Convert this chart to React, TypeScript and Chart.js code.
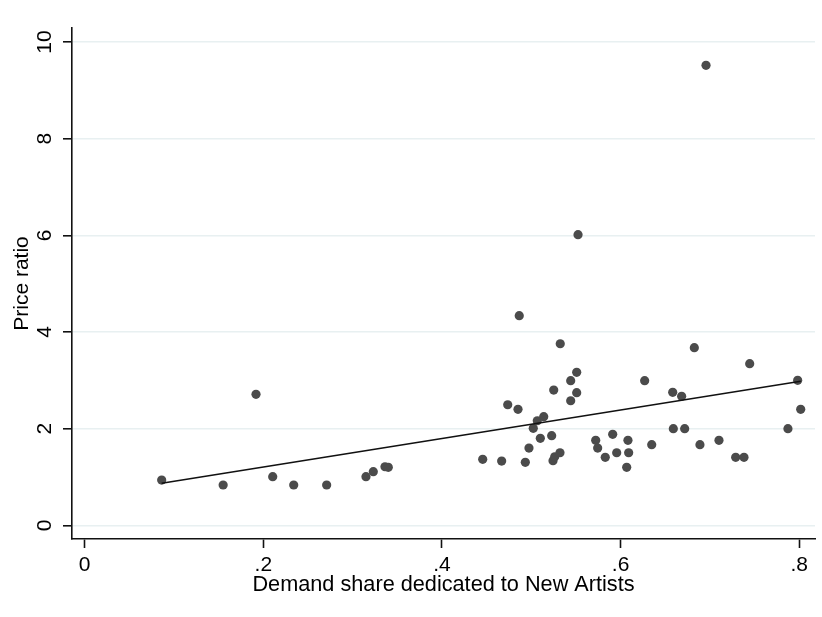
import React, { useEffect, useRef } from "react";
import { Chart, registerables } from "chart.js";

Chart.register(...registerables);

// Demand share dedicated to new artists (x) and price ratio (y), one pair per market
const shareNew = [
  0.0862, 0.155, 0.1918, 0.2105, 0.234, 0.2709, 0.3149, 0.3231, 0.3362, 0.3399,
  0.4456, 0.4668, 0.4736, 0.4851, 0.4865, 0.4933, 0.4974, 0.5022, 0.5067, 0.5101,
  0.5139, 0.5228, 0.5251, 0.5243, 0.5262, 0.5321, 0.5324, 0.5441, 0.5441, 0.5508,
  0.5508, 0.5523, 0.5721, 0.5743, 0.5828, 0.5911, 0.5956, 0.6082, 0.609, 0.6068,
  0.6269, 0.6348, 0.6583, 0.659, 0.6683, 0.6717, 0.6825, 0.6888, 0.6956, 0.7101,
  0.7288, 0.7381, 0.7445, 0.7873, 0.7982, 0.8016,
];
const priceRatio = [
  0.937, 0.834, 2.711, 1.006, 0.834, 0.834, 1.006, 1.109, 1.212, 1.2,
  1.366, 1.33, 2.495, 2.4, 4.337, 1.304, 1.599, 2.007, 2.164, 1.8,
  2.247, 1.854, 2.799, 1.337, 1.419, 1.502, 3.757, 2.992, 2.578, 3.166,
  2.744, 6.013, 1.759, 1.599, 1.407, 1.883, 1.502, 1.759, 1.502, 1.2,
  2.992, 1.668, 2.752, 1.999, 2.669, 1.999, 3.675, 1.668, 9.518, 1.759,
  1.407, 1.407, 3.344, 1.999, 3.0, 2.4,
];

// Linear fit endpoints
const fitX = [0.0862, 0.8016];
const fitY = [0.869, 2.981];

// Axis ticks and labels
const xTicks = [0, 0.2, 0.4, 0.6, 0.8];
const xTickLabels = ["0", ".2", ".4", ".6", ".8"];
const yTicks = [0, 2, 4, 6, 8, 10];
const yTickLabels = ["0", "2", "4", "6", "8", "10"];

const FONT = "'Liberation Sans', Arial, Helvetica, sans-serif";

export default function App() {
  const canvasRef = useRef<HTMLCanvasElement | null>(null);

  useEffect(() => {
    const canvas = canvasRef.current;
    if (!canvas) return;

    const points = shareNew.map((x, i) => ({ x, y: priceRatio[i] }));
    const fit = fitX.map((x, i) => ({ x, y: fitY[i] }));

    const chart = new Chart(canvas, {
      type: "scatter",
      data: {
        datasets: [
          {
            label: "Fitted values",
            data: fit,
            showLine: true,
            borderColor: "#111111",
            borderWidth: 1.6,
            pointRadius: 0,
            order: 0,
          },
          {
            label: "Price ratio",
            data: points,
            backgroundColor: "#4b4b4b",
            borderWidth: 0,
            pointRadius: 4.6,
            order: 1,
          },
        ],
      },
      options: {
        animation: false,
        responsive: false,
        layout: { padding: { top: 28, right: 7, left: 0, bottom: 0 } },
        plugins: {
          legend: { display: false },
          tooltip: { enabled: false },
        },
        scales: {
          x: {
            type: "linear",
            min: -0.0142,
            max: 0.8176,
            afterFit: (scale: any) => {
              scale.height = 78;
            },
            afterBuildTicks: (scale: any) => {
              scale.ticks = xTicks.map((value) => ({ value }));
            },
            border: { display: true, color: "#111111", width: 1.6 },
            grid: {
              drawOnChartArea: false,
              drawTicks: true,
              tickLength: 9,
              tickColor: "#111111",
              tickWidth: 1.6,
            },
            ticks: {
              padding: 5,
              color: "#000000",
              font: { family: FONT, size: 21 },
              maxRotation: 0,
              minRotation: 0,
              callback: (value: any) => {
                const i = xTicks.findIndex((t) => Math.abs(t - Number(value)) < 1e-9);
                return i >= 0 ? xTickLabels[i] : "";
              },
            },
            title: {
              display: true,
              text: "Demand share dedicated to New Artists",
              color: "#000000",
              font: { family: FONT, size: 21.7 },
              padding: { top: 0, bottom: 19 },
            },
          },
          y: {
            type: "linear",
            min: -0.283,
            max: 10.29,
            afterFit: (scale: any) => {
              scale.width = 72;
            },
            afterBuildTicks: (scale: any) => {
              scale.ticks = yTicks.map((value) => ({ value }));
            },
            border: { display: true, color: "#111111", width: 1.6 },
            grid: {
              drawOnChartArea: true,
              color: "#e8f0f1",
              lineWidth: 1.6,
              drawTicks: true,
              tickLength: 9,
              tickColor: "#111111",
              tickWidth: 1.6,
            },
            ticks: {
              padding: 6.6,
              color: "#000000",
              crossAlign: "center",
              minRotation: 90,
              maxRotation: 90,
              font: { family: FONT, size: 21 },
              callback: (value: any) => {
                const i = yTicks.findIndex((t) => Math.abs(t - Number(value)) < 1e-9);
                return i >= 0 ? yTickLabels[i] : "";
              },
            },
            title: {
              display: true,
              text: "Price ratio",
              color: "#000000",
              font: { family: FONT, size: 21 },
              padding: { top: 10, bottom: 0 },
            },
          },
        },
      },
    });

    return () => chart.destroy();
  }, []);

  return (
    <div
      style={{
        position: "fixed",
        left: 0,
        top: 0,
        width: 822,
        height: 617,
        background: "#ffffff",
      }}
    >
      <canvas ref={canvasRef} width={822} height={617} />
    </div>
  );
}
